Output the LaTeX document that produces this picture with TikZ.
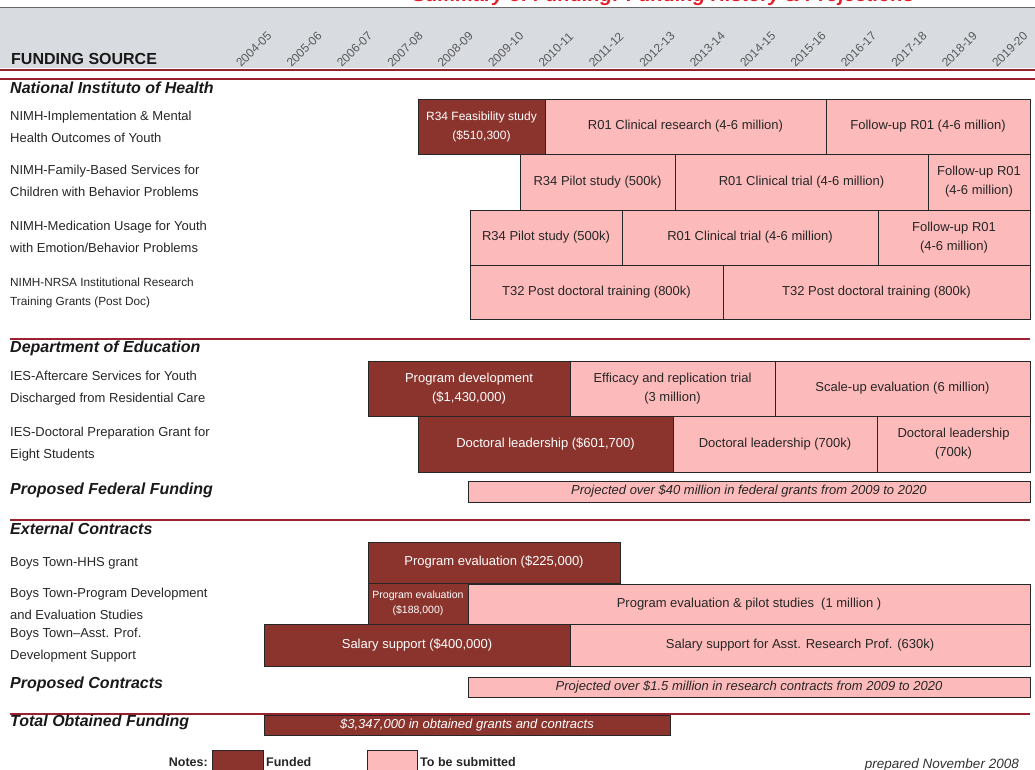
\documentclass[tikz,border=0pt]{standalone}
\usepackage{fontspec}
\setmainfont{Liberation Sans}
\definecolor{fundc}{RGB}{138,52,45}
\definecolor{subc}{RGB}{253,186,186}
\definecolor{linec}{RGB}{155,32,48}
\definecolor{bandc}{RGB}{216,219,224}
\definecolor{titlec}{RGB}{225,30,40}
\tikzset{
  funded/.style={draw=black!85, fill=fundc, line width=0.9pt},
  tosub/.style={draw=black!85, fill=subc, line width=0.9pt},
  wtxt/.style={text=white, align=center, inner sep=1pt, font=\fontsize{13}{19}\selectfont},
  btxt/.style={text=black!85, align=center, inner sep=1pt, font=\fontsize{13}{19}\selectfont},
  lbl/.style={anchor=west, align=left, inner sep=1pt, text=black!85, font=\fontsize{13}{21.5}\selectfont},
  hdr/.style={anchor=west, inner sep=1pt, text=black!90, font=\bfseries\itshape\fontsize{16}{18}\selectfont},
  yr/.style={anchor=base west, rotate=45, inner sep=0pt, text=black!65, font=\fontsize{12}{12}\selectfont},
  note/.style={text=black!85, inner sep=1pt, font=\bfseries\fontsize{12.5}{14}\selectfont},
  sepline/.style={linec, line width=1.8pt},
}
\begin{document}
\begin{tikzpicture}[x=1pt, y=-1pt]
\useasboundingbox (0,0) rectangle (1035,770);
\node[anchor=base east, text=titlec, font=\bfseries\itshape\fontsize{20}{22}\selectfont] (title) at (918,2) {Summary of Funding: Funding History \& Projections};
\fill[bandc] (0,8) rectangle (1035,68);
\draw[black!60, line width=1pt] (0,8)--(1035,8);
\draw[sepline, line width=2.2pt] (0,70)--(1035,70);
\draw[sepline, line width=1.2pt] (0,79)--(1035,79);
\node[anchor=base west, inner sep=1pt, text=black!90, font=\bfseries\fontsize{16}{18}\selectfont] (src) at (10,65) {FUNDING SOURCE};
\foreach \y [count=\i from 0] in {2004-05,2005-06,2006-07,2007-08,2008-09,2009-10,2010-11,2011-12,2012-13,2013-14,2014-15,2015-16,2016-17,2017-18,2018-19,2019-20}
{
    \node[yr] (yr\i) at ({241+50.4*\i},68) {\y};
}

\draw[sepline] (10,339)--(1030,339);
\draw[sepline] (10,520)--(1030,520);
\draw[sepline] (10,714)--(1030,714);

\node[hdr] (nih) at (9,88) {National Instituto of Health};
\node[lbl] (l1) at (9,127) {NIMH-Implementation \& Mental\\Health Outcomes of Youth};
\node[lbl] (l2) at (9,181) {NIMH-Family-Based Services for\\Children with Behavior Problems};
\node[lbl] (l3) at (9,237) {NIMH-Medication Usage for Youth\\with Emotion/Behavior Problems};
\node[lbl, font=\fontsize{11.8}{19}\selectfont] (l4) at (9,293) {NIMH-NRSA Institutional Research\\Training Grants (Post Doc)};
\node[hdr] (doe) at (9,348) {Department of Education};
\node[lbl] (l5) at (9,388) {IES-Aftercare Services for Youth\\Discharged from Residential Care};
\node[lbl] (l6) at (9,444) {IES-Doctoral Preparation Grant for\\Eight Students};
\node[hdr] (pff) at (9,490) {Proposed Federal Funding};
\node[hdr] (ext) at (9,529) {External Contracts};
\node[lbl] (l7) at (9,563) {Boys Town-HHS grant};
\node[lbl] (l8) at (9,604) {Boys Town-Program Development\\and Evaluation Studies};
\node[lbl] (l9) at (9,645) {Boys Town--Asst. Prof.\\Development Support};
\node[hdr] (pc) at (9,684) {Proposed Contracts};
\node[hdr] (tot) at (9,722) {Total Obtained Funding};

\draw[funded] (418,99) rectangle (545,154);
\node[wtxt, font=\fontsize{12}{19}\selectfont] (f0) at (481.5,126.5) {R34 Feasibility study\\(\$510,300)};
\foreach \xa/\ya/\xb/\yb/\t [count=\n] in {368/361/570/416/{Program development\\(\$1,430,000)},
    418/416/673/472/{Doctoral leadership (\$601,700)},
    368/542/620/583/{Program evaluation (\$225,000)},
    264/624/570/666/{Salary support (\$400,000)}}
{
    \draw[funded] (\xa,\ya) rectangle (\xb,\yb);
    \node[wtxt] (f\n) at ({(\xa+\xb)/2},{(\ya+\yb)/2}) {\t};
}
\draw[funded] (368,583) rectangle (468,624);
\node[wtxt, font=\fontsize{10.5}{15}\selectfont] (f5) at (418,603.5) {Program evaluation\\(\$188,000)};
\draw[funded] (264,715) rectangle (670,735);
\node[wtxt, font=\itshape\fontsize{13}{14}\selectfont] (f6) at (467,725) {\$3,347,000 in obtained grants and contracts};

\foreach \xa/\ya/\xb/\yb/\t [count=\n] in {545/99/826/154/{R01 Clinical research (4-6 million)},
    826/99/1030/154/{Follow-up R01 (4-6 million)},
    520/154/675/210/{R34 Pilot study (500k)},
    675/154/928/210/{R01 Clinical trial (4-6 million)},
    928/154/1030/210/{Follow-up R01\\(4-6 million)},
    470/210/622/265/{R34 Pilot study (500k)},
    622/210/878/265/{R01 Clinical trial (4-6 million)},
    878/210/1030/265/{Follow-up R01\\(4-6 million)},
    470/265/723/319/{T32 Post doctoral training (800k)},
    723/265/1030/319/{T32 Post doctoral training (800k)},
    570/361/775/416/{Efficacy and replication trial\\(3 million)},
    775/361/1030/416/{Scale-up evaluation (6 million)},
    673/416/877/472/{Doctoral leadership (700k)},
    877/416/1030/472/{Doctoral leadership\\(700k)},
    468/584/1030/624/{Program evaluation \& pilot studies\ \ (1 million )},
    570/624/1030/666/{Salary support for Asst. Research Prof. (630k)}}
{
    \draw[tosub] (\xa,\ya) rectangle (\xb,\yb);
    \node[btxt] (s\n) at ({(\xa+\xb)/2},{(\ya+\yb)/2}) {\t};
}
\draw[tosub] (468,481) rectangle (1030,502);
\node[btxt, font=\itshape\fontsize{13}{14}\selectfont] (s17) at (749,491.5) {Projected over \$40 million in federal grants from 2009 to 2020};
\draw[tosub] (468,677) rectangle (1030,697);
\node[btxt, font=\itshape\fontsize{13}{14}\selectfont] (s18) at (749,687) {Projected over \$1.5 million in research contracts from 2009 to 2020};

\draw[funded] (212,750) rectangle (263,778);
\draw[tosub] (367,750) rectangle (417,778);
\node[note, anchor=east] (notes) at (209,762) {Notes:};
\node[note, anchor=west] (fk) at (265,762) {Funded};
\node[note, anchor=west] (sk) at (419,762) {To be submitted};
\node[anchor=east, inner sep=1pt, text=black!80, font=\itshape\fontsize{13.5}{15}\selectfont] (prep) at (1020,765) {prepared November 2008};
\end{tikzpicture}
\end{document}
